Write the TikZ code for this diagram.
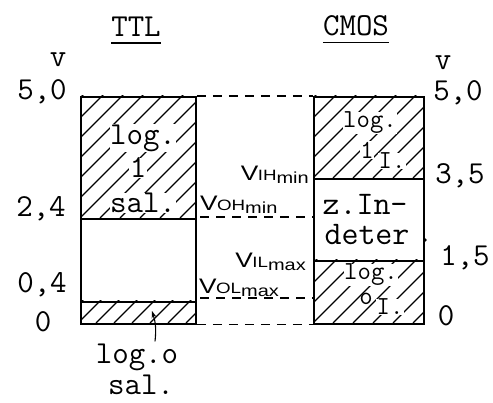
\documentclass[tikz,border=0pt]{standalone}
\usepackage{fontspec}
\newfontfamily\hw{Liberation Sans}
\usetikzlibrary{arrows.meta}
\newcommand\vlab[2]{\scalebox{1.25}[1]{V\kern-0.5pt{\fontsize{15}{15}\selectfont #1}\raisebox{-2.5pt}{\fontsize{16}{16}\selectfont #2}}}
\tikzset{
  tt/.style={font=\ttfamily\fontsize{32}{32}\selectfont, inner sep=0pt},
  tts/.style={font=\ttfamily\fontsize{26}{26}\selectfont, inner sep=0.5pt, fill=white},
  ttb/.style={font=\ttfamily\fontsize{32}{32}\selectfont, inner sep=0.5pt, fill=white},
  ttm/.style={font=\ttfamily\fontsize{33}{33}\selectfont, inner sep=0pt},
  box/.style={draw, line width=1.8pt, inner sep=0pt, anchor=north west},
  dashline/.style={line width=1.3pt, dash pattern=on 9pt off 7pt},
  hatch/.style={line width=1.2pt},
  vl/.style={font=\hw\fontsize{21}{21}\selectfont, inner sep=0pt}
}
\begin{document}
\begin{tikzpicture}[x=1pt,y=-1pt]
\useasboundingbox (0,0) rectangle (493,403);
% hatching
\begin{scope}
  \clip (80,96) rectangle (195,218);
  \foreach \k in {-140,-120,...,120} \draw[hatch] ({80+\k},218) -- ++(140,-140);
\end{scope}
\begin{scope}
  \clip (80,301) rectangle (195,323);
  \foreach \k in {-20,-2,...,120} \draw[hatch] ({80+\k},323) -- ++(30,-30);
\end{scope}
\begin{scope}
  \clip (313,96) rectangle (423,178);
  \foreach \k in {-100,-80,...,120} \draw[hatch] ({313+\k},178) -- ++(100,-100);
\end{scope}
\begin{scope}
  \clip (313,260) rectangle (423,323);
  \foreach \k in {-80,-60,...,120} \draw[hatch] ({313+\k},323) -- ++(80,-80);
\end{scope}
% boxes
\node[box, minimum width=115pt, minimum height=122pt] (ttlH) at (80,96) {};
\node[box, minimum width=115pt, minimum height=83pt] (ttlF) at (80,218) {};
\node[box, minimum width=115pt, minimum height=22pt] (ttlL) at (80,301) {};
\node[box, minimum width=110pt, minimum height=82pt] (cmH) at (313,96) {};
\node[box, minimum width=110pt, minimum height=82pt] (cmI) at (313,178) {};
\node[box, minimum width=110pt, minimum height=63pt] (cmL) at (313,260) {};
% dashed connectors
\draw[dashline] (ttlH.north east) -- (cmH.north west);
\draw[dashline] (ttlL.south east) -- (cmL.south west);
\coordinate (vohA) at (200,217);
\coordinate (vohB) at (313,217);
\coordinate (volA) at (200,298);
\coordinate (volB) at (313,298);
\draw[dashline] (vohA) -- (vohB);
\draw[dashline] (volA) -- (volB);
% titles
\node[tt] (ttl) at (136,27) {TTL};
\draw[line width=1.2pt] ([yshift=-6pt]ttl.south west) -- ([yshift=-6pt]ttl.south east);
\node[tt] (cmos) at (356,26) {CMOS};
\draw[line width=1.2pt] ([yshift=-6pt]cmos.south west) -- ([yshift=-6pt]cmos.south east);
% axis labels
\node[tt] (vL) at (58,60) {v};
\node[tt] (vR) at (443,63) {v};
\node[tt] (l50) at (42,92) {5,0};
\node[tt] (l24) at (41,209) {2,4};
\node[tt] (l04) at (42,285) {0,4};
\node[tt] (l0) at (43,322) {0};
\node[tt] (r50) at (458,93) {5,0};
\node[tt] (r35) at (460,176) {3,5};
\node[tt] (r15) at (465,258) {1,5};
\node[tt] (r0) at (446,316) {0};
% box texts
\node[ttb] (t1) at (143,138) {log.};
\node[ttb] (t2) at (138,168) {1};
\node[ttb] (t3) at (143,203) {sal.};
\node[tts] (c1) at (370,123) {log.};
\node[tts] (c2) at (367,150) {1};
\node[tts] (c3) at (392,161) {I.};
\node[ttm] (c4) at (365,204) {z.In-};
\node[ttm] (c5) at (367,235) {deter};
\node[tts] (c6) at (371,275) {log.};
\node[tts, fill=none] (c7) at (366,299) {o};
\node[tts] (c8) at (390,307) {I.};
\fill (425,240) circle (1.8pt);
% below
\node[tt] (lo) at (137,357) {log.o};
\node[tt] (ls) at (141,385) {sal.};
\coordinate (tip) at (152,311);
\draw[line width=1.1pt, -{Stealth[length=7pt,width=5pt]}] ([xshift=18pt,yshift=2pt]lo.north) to[bend right=12] (tip);
% V labels
\node[vl, anchor=east] (vih) at (309,175) {\vlab{IH}{min}};
\node[vl, anchor=west] (voh) at (200,205) {\vlab{OH}{min}};
\node[vl, anchor=east] (vil) at (306,262) {\vlab{IL}{max}};
\node[vl, anchor=west] (vol) at (199,288) {\vlab{OL}{max}};
\end{tikzpicture}
\end{document}
